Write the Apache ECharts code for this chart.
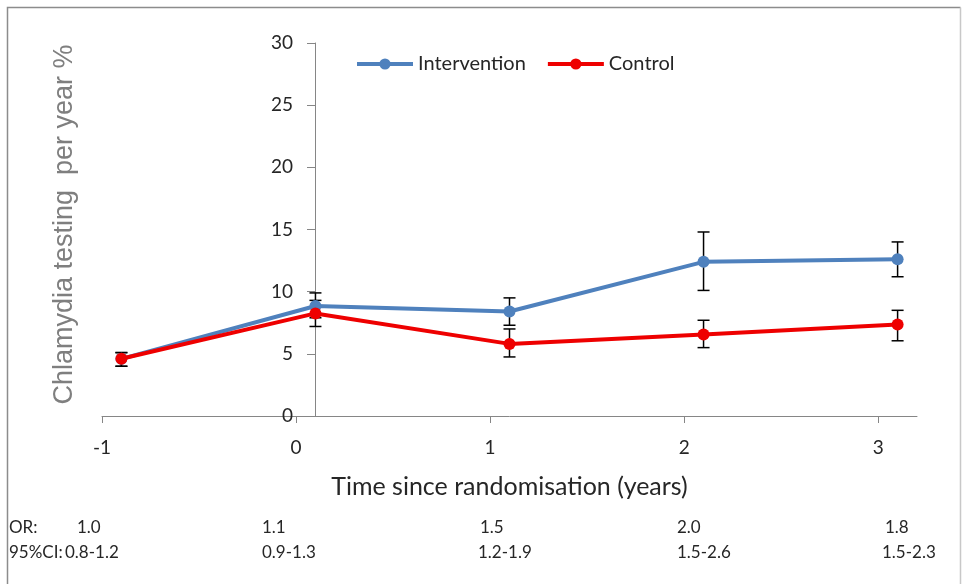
<!DOCTYPE html>
<html>
<head>
<meta charset="utf-8">
<script src="https://cdn.jsdelivr.net/npm/echarts@6/dist/echarts.min.js"></script>
<style>
html,body{margin:0;padding:0;background:#fff;}
#chart{width:967px;height:584px;}
</style>
</head>
<body>
<div id="chart"></div>
<script>
// ---- data ----
const xValues = [-0.9, 0.1, 1.1, 2.1, 3.1];
const xTicks = [-1, 0, 1, 2, 3];
const yTicks = [0, 5, 10, 15, 20, 25, 30];
const intervention = [4.6, 8.85, 8.4, 12.4, 12.6];
const interventionLow = [4.0, 7.9, 7.3, 10.1, 11.2];
const interventionHigh = [5.1, 9.9, 9.5, 14.8, 14.0];
const control = [4.6, 8.25, 5.8, 6.55, 7.35];
const controlLow = [4.0, 7.2, 4.75, 5.5, 6.05];
const controlHigh = [5.1, 9.3, 7.0, 7.7, 8.5];
const orValues = ['1.0', '1.1', '1.5', '2.0', '1.8'];
const ciValues = ['0.8-1.2', '0.9-1.3', '1.2-1.9', '1.5-2.6', '1.5-2.3'];
const seriesNames = ['Intervention', 'Control'];

// ---- build ----
const BLUE = '#4f81bd', RED = '#ee0000';
const FONT = 'Lato, "Open Sans", sans-serif';
function pairs(ys) { return xValues.map((x, i) => [x, ys[i]]); }
function bars(lo, hi) { return xValues.map((x, i) => [x, lo[i], hi[i]]); }

function errRender(params, api) {
  const x = api.value(0);
  const pLo = api.coord([x, api.value(1)]);
  const pHi = api.coord([x, api.value(2)]);
  const w = 6;
  const st = { stroke: '#000', lineWidth: 1.5 };
  return {
    type: 'group',
    children: [
      { type: 'line', shape: { x1: pLo[0], y1: pLo[1], x2: pHi[0], y2: pHi[1] }, style: st },
      { type: 'line', shape: { x1: pLo[0] - w, y1: pLo[1], x2: pLo[0] + w, y2: pLo[1] }, style: st },
      { type: 'line', shape: { x1: pHi[0] - w, y1: pHi[1], x2: pHi[0] + w, y2: pHi[1] }, style: st }
    ]
  };
}

const orX = [77, 262, 480, 677, 885];
const ciX = [65, 262, 478, 677, 882];
const TF = '17px ' + FONT;
const TC = '#262626';
const annot = [];
annot.push({ type: 'text', left: 9, top: 519, style: { text: 'OR:', font: TF, fill: TC } });
annot.push({ type: 'text', left: 9, top: 544, style: { text: '95%CI:', font: TF, fill: TC } });
orValues.forEach((t, i) => annot.push({ type: 'text', left: orX[i], top: 519, style: { text: t, font: TF, fill: TC } }));
ciValues.forEach((t, i) => annot.push({ type: 'text', left: ciX[i], top: 544, style: { text: t, font: TF, fill: TC } }));
annot.push({ type: 'polyline', shape: { points: [[7.5, 600], [7.5, 7.5], [960.5, 7.5]] }, style: { stroke: '#8c8c8c', lineWidth: 1.5, fill: null } });
annot.push({ type: 'line', shape: { x1: 960.5, y1: 7.5, x2: 960.5, y2: 600 }, style: { stroke: '#c8c8c8', lineWidth: 1.5 } });

const chart = echarts.init(document.getElementById('chart'), null, { renderer: 'canvas' });
chart.setOption({
  animation: false,
  backgroundColor: '#fff',
  grid: { left: 102, right: 50, top: 43, bottom: 168, containLabel: false },
  legend: {
    left: 350, top: 49,
    itemWidth: 56, itemHeight: 14, itemGap: 20,
    data: seriesNames,
    lineStyle: { width: 4 },
    textStyle: { fontFamily: FONT, fontSize: 20, color: '#262626' }
  },
  xAxis: {
    type: 'value', min: -1, max: 3.2, interval: 1,
    name: 'Time since randomisation (years)',
    nameLocation: 'middle', nameGap: 58,
    nameTextStyle: { fontFamily: FONT, fontSize: 25, color: '#262626' },
    axisLine: { onZero: false, lineStyle: { color: '#868686', width: 1 } },
    axisTick: { show: true, inside: false, length: 7, customValues: xTicks, lineStyle: { color: '#868686' } },
    axisLabel: { customValues: xTicks, margin: 22, fontFamily: FONT, fontSize: 19, color: '#262626' },
    splitLine: { show: false }
  },
  yAxis: {
    type: 'value', min: 0, max: 30, interval: 5,
    position: 'left', offset: -213,
    name: 'Chlamydia testing  per year %',
    nameLocation: 'middle', nameGap: 237,
    nameTextStyle: { fontFamily: '"Liberation Sans", Arial, sans-serif', fontSize: 27, color: '#7f7f7f', padding: [0, 0, 0, 10] },
    axisLine: { show: true, onZero: false, lineStyle: { color: '#868686', width: 1 } },
    axisTick: { show: true, inside: false, length: 8, customValues: yTicks, lineStyle: { color: '#868686' } },
    axisLabel: { customValues: yTicks, margin: 22, fontFamily: FONT, fontSize: 19, color: '#262626' },
    splitLine: { show: false }
  },
  graphic: annot,
  series: [
    {
      type: 'custom', name: 'errI', renderItem: errRender, data: bars(interventionLow, interventionHigh),
      encode: { x: 0, y: [1, 2] }, z: 1, silent: true
    },
    {
      type: 'custom', name: 'errC', renderItem: errRender, data: bars(controlLow, controlHigh),
      encode: { x: 0, y: [1, 2] }, z: 1, silent: true
    },
    {
      name: seriesNames[0], type: 'line', data: pairs(intervention), z: 3,
      symbol: 'circle', symbolSize: 12,
      lineStyle: { color: BLUE, width: 4 }, itemStyle: { color: BLUE }
    },
    {
      name: seriesNames[1], type: 'line', data: pairs(control), z: 4,
      symbol: 'circle', symbolSize: 12,
      lineStyle: { color: RED, width: 4 }, itemStyle: { color: RED }
    }
  ]
});
</script>
</body>
</html>
